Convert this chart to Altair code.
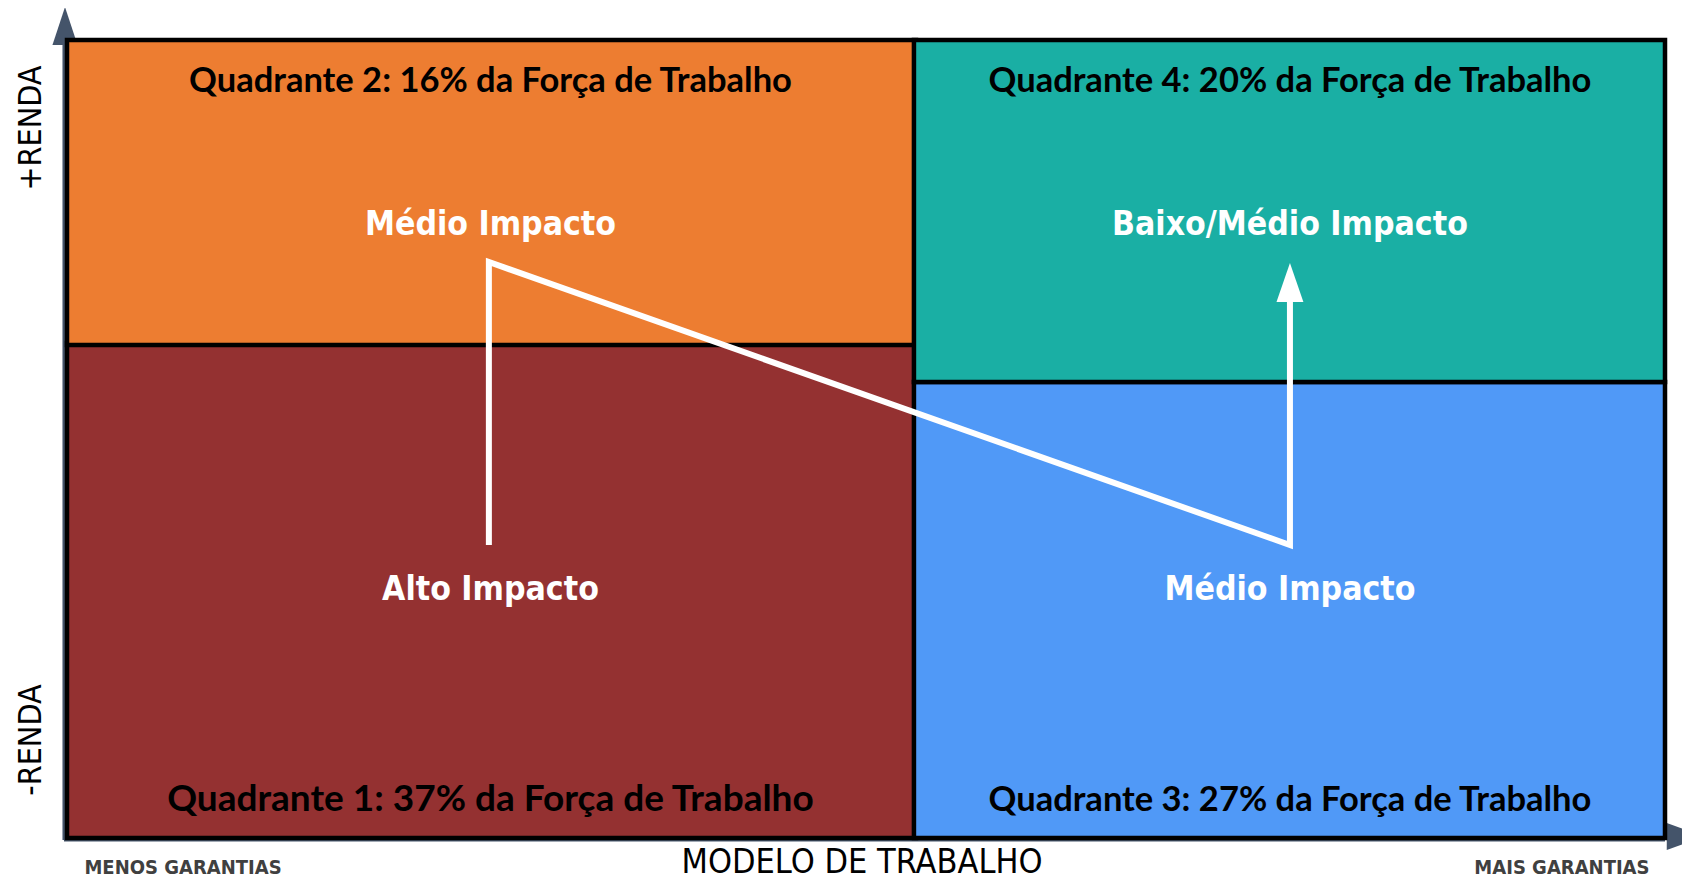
import altair as alt
import pandas as pd

# ---- data (domain units: x 0-100 "garantias", y 0-100 "renda") ----
X_SPLIT_L = 53.13   # right edge of left quadrants
X_SPLIT_R = 53.0    # left edge of right quadrants
Y_SPLIT_Q1 = 62.03  # top of quadrant 1
Y_SPLIT_Q2 = 61.78  # bottom of quadrant 2
Y_SPLIT_RIGHT = 57.14

quad_x0 = [0, 0, X_SPLIT_R, X_SPLIT_R]
quad_x1 = [X_SPLIT_L, X_SPLIT_L, 100, 100]
quad_y0 = [0, Y_SPLIT_Q2, 0, Y_SPLIT_RIGHT]
quad_y1 = [Y_SPLIT_Q1, 100, Y_SPLIT_RIGHT, 100]
quad_colors = ["#943131", "#ED7D31", "#5099F7", "#1AAFA4"]

title_texts = [
    "Quadrante 1: 37% da Força de Trabalho",
    "Quadrante 2: 16% da Força de Trabalho",
    "Quadrante 3: 27% da Força de Trabalho",
    "Quadrante 4: 20% da Força de Trabalho",
]
title_x = [26.5, 26.5, 76.53, 76.53]
title_y = [3.38, 93.48, 3.38, 93.48]
title_size = [37, 34.5, 34.5, 34.5]

impact_texts = ["Alto Impacto", "Médio Impacto", "Médio Impacto", "Baixo/Médio Impacto"]
impact_x = [26.5, 26.5, 76.53, 76.53]
impact_y = [29.82, 75.56, 29.82, 75.56]

path_x = [26.4, 26.4, 76.53, 76.53]
path_y = [36.72, 72.18, 36.72, 67.6]
path_order = [0, 1, 2, 3]
head_x = [76.53]
head_y = [69.61]

side_texts = ["+RENDA", "-RENDA"]
side_x = [-2.28, -2.28]
side_y = [88.97, 12.28]

bottom_texts = ["MENOS GARANTIAS", "MAIS GARANTIAS"]
bottom_x = [7.26, 93.55]
bottom_y = [-4.51, -4.51]

axis_title = ["MODELO DE TRABALHO"]
axis_title_x = [49.75]
axis_title_y = [-4.39]

AXIS_X = -0.19
AXIS_Y = -0.25

XS = alt.Scale(domain=[0, 100])
YS = alt.Scale(domain=[0, 100])

def X(f):
    return alt.X(f, type="quantitative", scale=XS, axis=None)

def Y(f):
    return alt.Y(f, type="quantitative", scale=YS, axis=None)

quads = pd.DataFrame({"x": quad_x0, "x2": quad_x1, "y": quad_y0, "y2": quad_y1, "c": quad_colors})
titles = pd.DataFrame({"x": title_x, "y": title_y, "t": title_texts, "s": title_size})
impacts = pd.DataFrame({"x": impact_x, "y": impact_y, "t": impact_texts})
path = pd.DataFrame({"x": path_x, "y": path_y, "o": path_order})
head = pd.DataFrame({"x": head_x, "y": head_y})
sides = pd.DataFrame({"x": side_x, "y": side_y, "t": side_texts})
bottoms = pd.DataFrame({"x": bottom_x, "y": bottom_y, "t": bottom_texts})
atitle = pd.DataFrame({"x": axis_title_x, "y": axis_title_y, "t": axis_title})

axis_v = pd.DataFrame({"x": [AXIS_X], "y": [AXIS_Y], "y2": [100.6]})
axis_h = pd.DataFrame({"x": [AXIS_X], "x2": [100.0], "y": [AXIS_Y]})
arrow_up = pd.DataFrame({"x": [-0.125], "y": [101.75]})
arrow_right = pd.DataFrame({"x": [101.3], "y": [0.19]})

AXIS_COLOR = "#44546A"
NARROW = "DejaVu Sans Condensed, Liberation Sans Narrow, sans-serif"

l_axis_v = alt.Chart(axis_v).mark_rule(color=AXIS_COLOR, strokeWidth=3).encode(
    x=X("x"), y=Y("y"), y2="y2")
l_axis_h = alt.Chart(axis_h).mark_rule(color=AXIS_COLOR, strokeWidth=3).encode(
    x=X("x"), x2="x2", y=Y("y"))
l_arrow_up = alt.Chart(arrow_up).mark_point(
    shape="M0,-1L-0.66,1L0.66,1Z", filled=True, size=1444, color=AXIS_COLOR, opacity=1, strokeWidth=0
).encode(x=X("x"), y=Y("y"))
l_arrow_right = alt.Chart(arrow_right).mark_point(
    shape="M1,0L-1,-0.71L-1,0.71Z", filled=True, size=1444, color=AXIS_COLOR, opacity=1, strokeWidth=0
).encode(x=X("x"), y=Y("y"))

l_quads = alt.Chart(quads).mark_rect(stroke="black", strokeWidth=4.5).encode(
    x=X("x"), x2="x2", y=Y("y"), y2="y2", fill=alt.Fill("c:N", scale=None))

l_titles = alt.Chart(titles).mark_text(
    font="Lato", fontWeight="bold", color="black", align="center", baseline="alphabetic"
).encode(x=X("x"), y=Y("y"), text="t:N", size=alt.Size("s:Q", scale=None))

l_path = alt.Chart(path).mark_line(
    color="white", strokeWidth=6, strokeJoin="miter", strokeCap="butt"
).encode(x=X("x"), y=Y("y"), order="o:Q")
l_head = alt.Chart(head).mark_point(
    shape="M0,-1L-0.69,1L0.69,1Z", filled=True, size=1521, color="white", opacity=1, strokeWidth=0
).encode(x=X("x"), y=Y("y"))

l_impacts = alt.Chart(impacts).mark_text(
    font=NARROW, fontWeight="bold", fontSize=33.5, color="white", align="center", baseline="alphabetic"
).encode(x=X("x"), y=Y("y"), text="t:N")

l_sides = alt.Chart(sides).mark_text(
    font=NARROW, fontSize=32, color="black", align="center", baseline="middle", angle=270
).encode(x=X("x"), y=Y("y"), text="t:N")

l_bottoms = alt.Chart(bottoms).mark_text(
    font=NARROW, fontWeight="bold", fontSize=20, color="#404040", align="center", baseline="alphabetic"
).encode(x=X("x"), y=Y("y"), text="t:N")

l_atitle = alt.Chart(atitle).mark_text(
    font=NARROW, fontSize=34, color="black", align="center", baseline="alphabetic"
).encode(x=X("x"), y=Y("y"), text="t:N")

chart = alt.layer(
    l_axis_v, l_axis_h, l_arrow_up, l_arrow_right, l_quads, l_titles,
    l_path, l_head, l_impacts, l_sides, l_bottoms, l_atitle
).properties(
    width=1598, height=798,
    autosize=alt.AutoSizeParams(type="none"),
    padding={"left": 59, "top": 32, "right": 17, "bottom": 44},
    background="white",
).configure_view(stroke=None)

chart.save("out.html", embed_options={"renderer": "svg", "actions": False})
